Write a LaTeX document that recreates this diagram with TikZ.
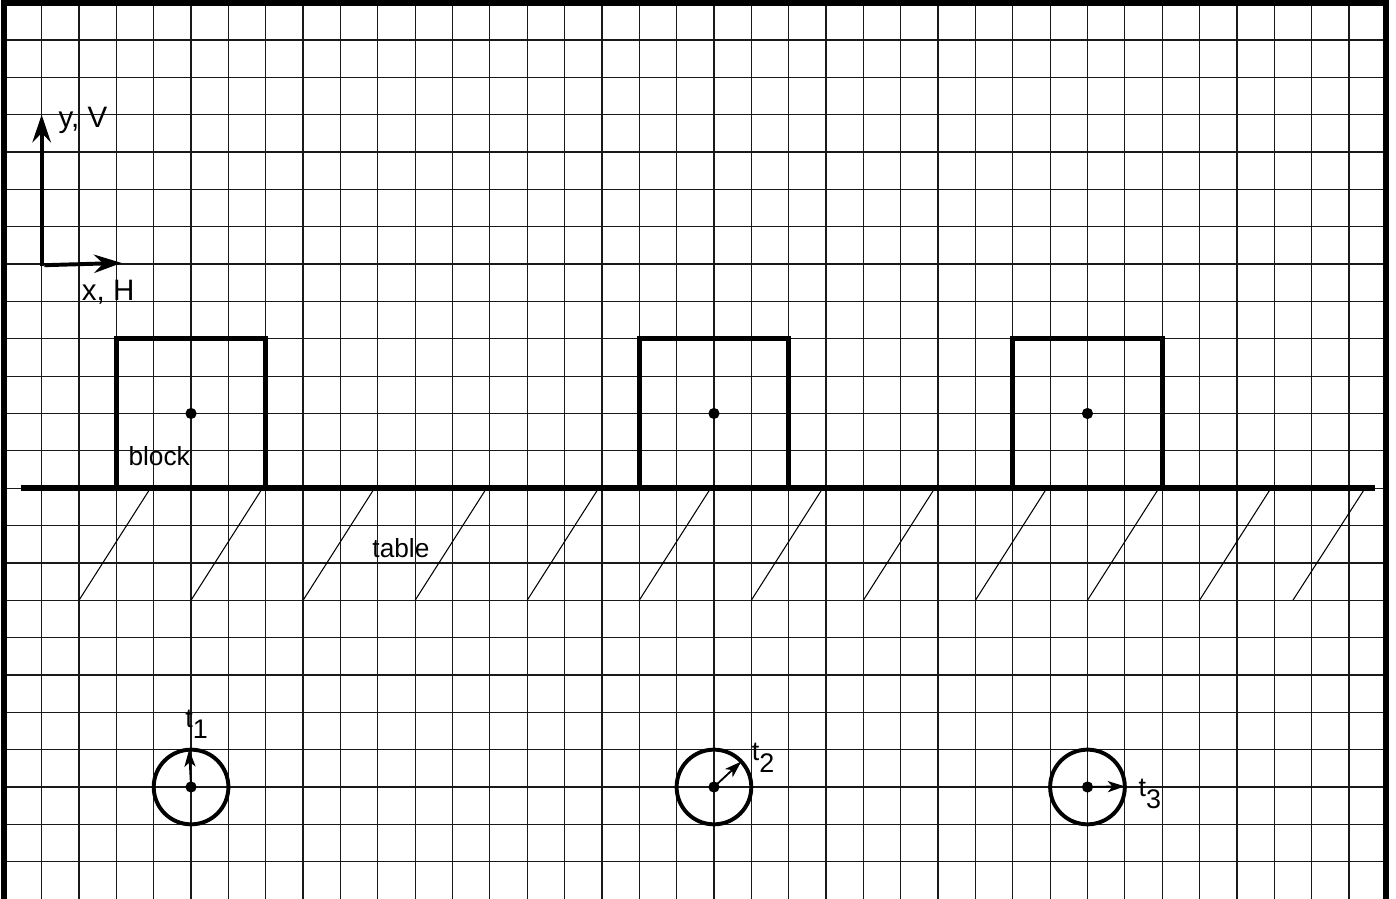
\documentclass[tikz,border=0pt]{standalone}
\usepackage{fontspec}
\setmainfont{Liberation Sans}
\usetikzlibrary{arrows.meta}
\begin{document}
\begin{tikzpicture}[
  gridline/.style={line width=0.95pt, black!90},
  frame/.style={line width=4.6pt},
  tableline/.style={line width=4.4pt},
  blockbox/.style={draw, line width=4pt, minimum size=4cm, inner sep=0pt, outer sep=0pt},
  wheel/.style={draw, circle, line width=3pt, minimum size=2cm, inner sep=0pt, outer sep=0pt},
  axisarrow/.style={line width=3pt, -{Stealth[length=21pt,width=14pt,inset=7pt]}},
  handarrow/.style={line width=1.4pt, -{Stealth[length=13pt,width=8.5pt,inset=3.5pt]}},
  hatch/.style={line width=0.8pt},
  lbl/.style={inner sep=0pt, anchor=base west, font=\fontsize{20}{22}\selectfont},
  axlbl/.style={lbl, font=\fontsize{22.5}{24}\selectfont},
  tlbl/.style={lbl, font=\fontsize{20.5}{22}\selectfont},
  dot/.style={circle, fill, inner sep=0pt, minimum size=0.3cm},
]
\useasboundingbox (-0.115,0.07) rectangle (37.26,-23.98);

% grid
\foreach \i in {0,...,37} \draw[gridline] (\i,0) -- (\i,-24.2);
\foreach \j in {0,...,23} \draw[gridline] (0,-\j) -- (37,-\j);

% frame
\draw[frame] (0,-24.3) -- (0,0) -- (37,0) -- (37,-24.3);

% axes
\coordinate (yfoot) at (1,-7.06);
\coordinate (ytip) at (1,-3);
\coordinate (xfoot) at (1.07,-7.03);
\coordinate (xtip) at (3.14,-6.97);
\draw[axisarrow] (yfoot) -- (ytip);
\draw[axisarrow] (xfoot) -- (xtip);
\node[axlbl] (ylab) at (1.446,-3.345) {y, V};
\node[axlbl] (xlab) at (2.07,-7.97) {x, H};

% hatching under the table
\foreach \b in {2,5,...,32} \draw[hatch] (\b+1.88,-13.05) -- (\b,-16);
\draw[hatch] (36.4,-13.05) -- (34.5,-16);

% table
\coordinate (tl) at (0.45,-13);
\coordinate (tr) at (36.7,-13);
\draw[tableline] (tl) -- (tr);
\node[lbl] (tablelab) at (9.85,-14.86) {table};

% blocks
\node[blockbox] (b1) at (5,-11) {};
\node[blockbox] (b2) at (19,-11) {};
\node[blockbox] (b3) at (29,-11) {};
\node[dot] (d1) at (b1.center) {};
\node[dot] (d2) at (b2.center) {};
\node[dot] (d3) at (b3.center) {};
\node[lbl] (blocklab) at (3.32,-12.38) {block};

% clocks
\node[wheel] (c1) at (5,-21) {};
\node[wheel] (c2) at (19,-21) {};
\node[wheel] (c3) at (29,-21) {};
\node[dot] (e1) at (c1.center) {};
\node[dot] (e2) at (c2.center) {};
\node[dot] (e3) at (c3.center) {};
\draw[handarrow] (c1.center) -- (c1.93);
\draw[handarrow] (c2.center) -- (c2.43);
\draw[handarrow] (c3.center) -- (c3.1);
\node[tlbl] (t1) at (4.84,-19.40) {t\raisebox{-0.3cm}{1}};
\node[tlbl] (t2) at (20.01,-20.28) {t\raisebox{-0.32cm}{2}};
\node[tlbl] (t3) at (30.36,-21.25) {t\raisebox{-0.33cm}{3}};
\end{tikzpicture}
\end{document}
